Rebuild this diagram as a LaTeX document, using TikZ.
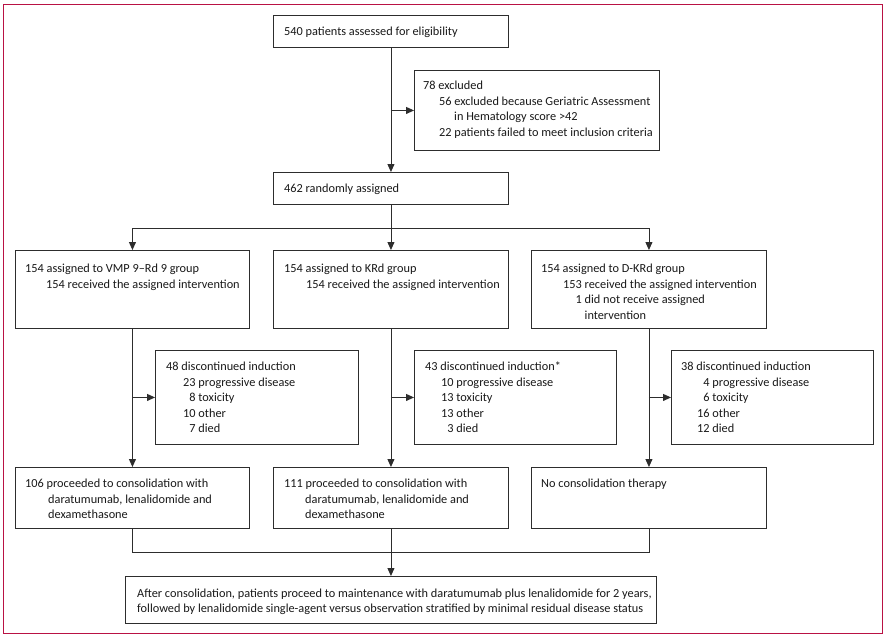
\documentclass[tikz,border=0pt]{standalone}
\usepackage{fontspec}
\setmainfont{Carlito}
\usetikzlibrary{arrows.meta}
\definecolor{framec}{RGB}{185,18,68}
\definecolor{linec}{RGB}{45,45,45}
\definecolor{textc}{RGB}{25,25,25}
\newcommand\fs{\fontsize{12.3}{15.5}\selectfont}
\begin{document}
\begin{tikzpicture}[x=1pt,y=-1pt,
  box/.style={draw=linec, line width=0.9pt, inner sep=0pt, anchor=north west},
  txt/.style={anchor=north west, inner sep=0pt, align=left, font=\fs, text=textc},
  ln/.style={draw=linec, line width=0.9pt},
  arr/.style={draw=linec, line width=0.9pt, -{Triangle[length=8pt,width=7pt]}}]
\fill[white] (0,0) rectangle (885,640);
\useasboundingbox (0,0) rectangle (885,640);
\draw[framec, line width=1.6pt] (3.5,4.5) rectangle (882.5,633.5);
% boxes
\node[box, minimum width=235pt, minimum height=32pt] (b1) at (273,15) {};
\node[box, minimum width=245pt, minimum height=80pt] (ex) at (414,70) {};
\node[box, minimum width=235pt, minimum height=32pt] (b2) at (273,172) {};
\node[box, minimum width=234pt, minimum height=78pt] (rA) at (15,250) {};
\node[box, minimum width=235pt, minimum height=78pt] (rB) at (273,250) {};
\node[box, minimum width=235pt, minimum height=78pt] (rC) at (531,250) {};
\node[box, minimum width=203pt, minimum height=94pt] (dA) at (155,350) {};
\node[box, minimum width=202pt, minimum height=94pt] (dB) at (414,350) {};
\node[box, minimum width=202pt, minimum height=94pt] (dC) at (671,350) {};
\node[box, minimum width=234pt, minimum height=61pt] (cA) at (15,467) {};
\node[box, minimum width=235pt, minimum height=61pt] (cB) at (273,467) {};
\node[box, minimum width=235pt, minimum height=61pt] (cC) at (531,467) {};
\node[box, minimum width=531pt, minimum height=47pt] (fin) at (125,576) {};
% texts
\node[txt] (t1) at (284,24.65) {\strut 540 patients assessed for eligibility};
\node[txt] (tex) at (423,78.65) {\strut 78 excluded\\
  \strut\hspace*{16pt}56 excluded because Geriatric Assessment\\
  \strut\hspace*{31pt}in Hematology score >42\\
  \strut\hspace*{16pt}22 patients failed to meet inclusion criteria};
\node[txt] (t2) at (284,181.65) {\strut 462 randomly assigned};
\node[txt] (tA) at (25,261.65) {\strut 154 assigned to VMP 9–Rd 9 group\\
  \strut\hspace*{21pt}154 received the assigned intervention};
\node[txt] (tB) at (284,261.65) {\strut 154 assigned to KRd group\\
  \strut\hspace*{22pt}154 received the assigned intervention};
\node[txt] (tC) at (541,261.65) {\strut 154 assigned to D-KRd group\\
  \strut\hspace*{22pt}153 received the assigned intervention\\
  \strut\hspace*{22pt}\phantom{15}1 did not receive assigned\\
  \strut\hspace*{22pt}\phantom{153 }intervention};
\node[txt] (tdA) at (166,359.65) {\strut 48 discontinued induction\\
  \strut\hspace*{17pt}23 progressive disease\\
  \strut\hspace*{17pt}\phantom{2}8 toxicity\\
  \strut\hspace*{17pt}10 other\\
  \strut\hspace*{17pt}\phantom{1}7 died};
\node[txt] (tdB) at (425,359.65) {\strut 43 discontinued induction*\\
  \strut\hspace*{16pt}10 progressive disease\\
  \strut\hspace*{16pt}13 toxicity\\
  \strut\hspace*{16pt}13 other\\
  \strut\hspace*{16pt}\phantom{1}3 died};
\node[txt] (tdC) at (681,359.65) {\strut 38 discontinued induction\\
  \strut\hspace*{16pt}\phantom{1}4 progressive disease\\
  \strut\hspace*{16pt}\phantom{1}6 toxicity\\
  \strut\hspace*{16pt}16 other\\
  \strut\hspace*{16pt}12 died};
\node[txt] (tcA) at (25,476.65) {\strut 106 proceeded to consolidation with\\
  \strut\hspace*{23pt}daratumumab, lenalidomide and\\
  \strut\hspace*{23pt}dexamethasone};
\node[txt] (tcB) at (284,476.65) {\strut 111 proceeded to consolidation with\\
  \strut\hspace*{21pt}daratumumab, lenalidomide and\\
  \strut\hspace*{21pt}dexamethasone};
\node[txt] (tcC) at (541,476.65) {\strut No consolidation therapy};
\node[txt] (tf) at (137,586.15) {\strut After consolidation, patients proceed to maintenance with daratumumab plus lenalidomide for 2 years,\\
  \strut followed by lenalidomide single-agent versus observation stratified by minimal residual disease status};
% connectors
\draw[arr] (b1.south) -- (b2.north);
\coordinate (j1) at (b1.south |- ex.west);
\draw[arr] (j1) -- (ex.west);
\coordinate (br) at (b2.south |- 0,228);
\draw[ln] (b2.south) -- (br);
\draw[arr] (br) -| (rA.north);
\draw[arr] (br) -- (rB.north);
\draw[arr] (br) -| (rC.north);
\draw[arr] (rA.south) -- (cA.north);
\draw[arr] (rB.south) -- (cB.north);
\draw[arr] (rC.south) -- (cC.north);
\coordinate (jA) at (rA.south |- dA.west);
\coordinate (jB) at (rB.south |- dB.west);
\coordinate (jC) at (rC.south |- dC.west);
\draw[arr] (jA) -- (dA.west);
\draw[arr] (jB) -- (dB.west);
\draw[arr] (jC) -- (dC.west);
\coordinate (mg) at (cB.south |- 0,552);
\draw[ln] (cA.south) |- (mg);
\draw[ln] (cC.south) |- (mg);
\draw[arr] (cB.south) -- (fin.north);
\end{tikzpicture}
\end{document}
